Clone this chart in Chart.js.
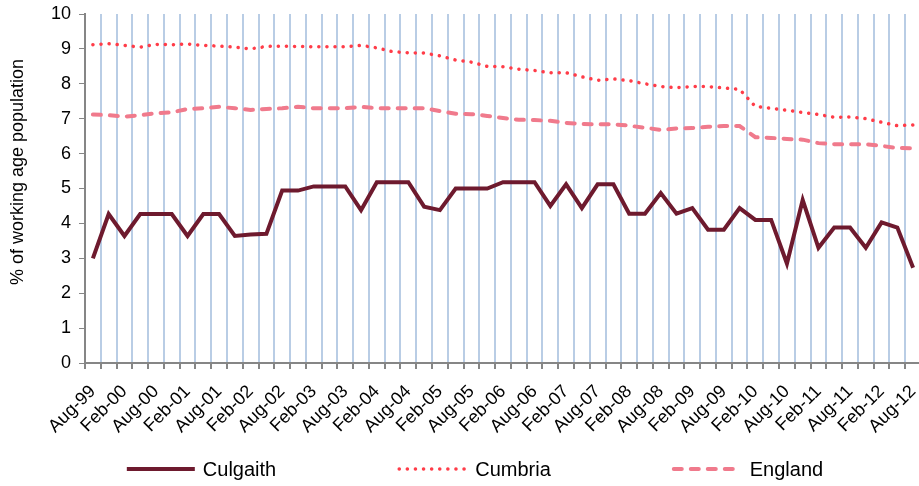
<!DOCTYPE html>
<html>
<head>
<meta charset="utf-8">
<script src="https://cdn.jsdelivr.net/npm/chart.js@4"></script>
<style>
  html, body { margin: 0; padding: 0; background: #fff; overflow: hidden; }
  #wrap { position: relative; width: 921px; height: 486px; }
</style>
</head>
<body>
<div id="wrap"><canvas id="chart"></canvas></div>
<script>
const quarters = [
  'Aug-99', 'Nov-99',
  'Feb-00', 'May-00', 'Aug-00', 'Nov-00',
  'Feb-01', 'May-01', 'Aug-01', 'Nov-01',
  'Feb-02', 'May-02', 'Aug-02', 'Nov-02',
  'Feb-03', 'May-03', 'Aug-03', 'Nov-03',
  'Feb-04', 'May-04', 'Aug-04', 'Nov-04',
  'Feb-05', 'May-05', 'Aug-05', 'Nov-05',
  'Feb-06', 'May-06', 'Aug-06', 'Nov-06',
  'Feb-07', 'May-07', 'Aug-07', 'Nov-07',
  'Feb-08', 'May-08', 'Aug-08', 'Nov-08',
  'Feb-09', 'May-09', 'Aug-09', 'Nov-09',
  'Feb-10', 'May-10', 'Aug-10', 'Nov-10',
  'Feb-11', 'May-11', 'Aug-11', 'Nov-11',
  'Feb-12', 'May-12', 'Aug-12'
];

const culgaith = [
  3.0, 4.27, 3.64, 4.27, 4.27, 4.27, 3.64, 4.27, 4.27, 3.64,
  3.68, 3.7, 4.94, 4.94, 5.06, 5.06, 5.06, 4.38, 5.18, 5.18,
  5.18, 4.48, 4.38, 5.0, 5.0, 5.0, 5.18, 5.18, 5.18, 4.5,
  5.12, 4.44, 5.12, 5.12, 4.28, 4.28, 4.87, 4.28, 4.44, 3.82,
  3.82, 4.44, 4.1, 4.1, 2.85, 4.67, 3.3, 3.88, 3.88, 3.3,
  4.03, 3.88, 2.73
];

const cumbria = [
  9.12, 9.15, 9.1, 9.05, 9.13, 9.12, 9.14, 9.1, 9.08, 9.05,
  9.0, 9.07, 9.08, 9.07, 9.06, 9.06, 9.06, 9.1, 9.03, 8.92,
  8.89, 8.88, 8.8, 8.68, 8.62, 8.5, 8.49, 8.42, 8.38, 8.32,
  8.32, 8.2, 8.1, 8.14, 8.09, 8.0, 7.92, 7.89, 7.92, 7.92,
  7.88, 7.84, 7.35, 7.3, 7.24, 7.18, 7.12, 7.04, 7.05, 7.0,
  6.9, 6.8, 6.82
];

const england = [
  7.12, 7.1, 7.06, 7.1, 7.16, 7.18, 7.28, 7.3, 7.34, 7.3,
  7.25, 7.28, 7.3, 7.34, 7.3, 7.3, 7.3, 7.34, 7.3, 7.3,
  7.3, 7.3, 7.22, 7.14, 7.13, 7.08, 7.02, 6.97, 6.96, 6.94,
  6.88, 6.85, 6.84, 6.84, 6.8, 6.74, 6.68, 6.72, 6.73, 6.77,
  6.79, 6.79, 6.47, 6.45, 6.42, 6.4, 6.3, 6.27, 6.27, 6.27,
  6.22, 6.16, 6.15
];

const yTitle = '% of working age population';

const FONT = "'Liberation Sans', Arial, sans-serif";

// axis title + legend, placed where the original has them
const extras = {
  id: 'extras',
  afterDraw(chart) {
    const ctx = chart.ctx;
    ctx.save();

    // y title (sits a bit above the plot centre in the original)
    ctx.save();
    ctx.translate(18, 172);
    ctx.rotate(-Math.PI / 2);
    ctx.font = '18px ' + FONT;
    ctx.fillStyle = '#000';
    ctx.textAlign = 'center';
    ctx.textBaseline = 'middle';
    ctx.fillText(yTitle, 0, 0);
    ctx.restore();

    const sets = chart.data.datasets;
    const sample = 70, textGap = 8, itemGap = 121, y = 469;
    ctx.font = '20px ' + FONT;
    const widths = sets.map(d => sample + textGap + ctx.measureText(d.label).width);
    const total = widths.reduce((a, b) => a + b, 0) + itemGap * (sets.length - 1);
    let x = 474 - total / 2;
    sets.forEach((d, i) => {
      ctx.beginPath();
      ctx.strokeStyle = d.borderColor;
      ctx.lineWidth = d.borderWidth;
      ctx.lineCap = d.borderCapStyle || 'butt';
      ctx.setLineDash(d.borderDash || []);
      ctx.moveTo(x + 2, y);
      ctx.lineTo(x + sample, y);
      ctx.stroke();
      ctx.setLineDash([]);
      ctx.fillStyle = '#000';
      ctx.textBaseline = 'middle';
      ctx.textAlign = 'left';
      ctx.fillText(d.label, x + sample + textGap, y + 1);
      x += widths[i] + itemGap;
    });
    ctx.restore();
  }
};

new Chart(document.getElementById('chart'), {
  type: 'line',
  data: {
    labels: quarters,
    datasets: [
      {
        label: 'Culgaith',
        data: culgaith,
        borderColor: '#6e1a2e',
        borderWidth: 4,
        borderCapStyle: 'butt',
        borderJoinStyle: 'miter',
        pointRadius: 0,
        tension: 0
      },
      {
        label: 'Cumbria',
        data: cumbria,
        borderColor: '#ff3c48',
        borderWidth: 3.5,
        borderDash: [0.1, 8],
        borderCapStyle: 'round',
        pointRadius: 0,
        tension: 0
      },
      {
        label: 'England',
        data: england,
        borderColor: '#f07a8c',
        borderWidth: 4,
        borderDash: [8, 9],
        borderCapStyle: 'round',
        pointRadius: 0,
        tension: 0
      }
    ]
  },
  options: {
    responsive: true,
    maintainAspectRatio: false,
    animation: false,
    events: [],
    layout: { padding: { top: 14, right: 0, bottom: 0, left: 0 } },
    plugins: {
      legend: { display: false },
      tooltip: { enabled: false }
    },
    scales: {
      x: {
        offset: true,
        afterFit(scale) {
          scale.height = 123;
          scale.paddingLeft = 0;
          scale.paddingRight = 0;
        },
        grid: {
          offset: true,
          color: '#b9cde5',
          lineWidth: 2,
          tickColor: '#868686',
          tickLength: 6,
          drawOnChartArea: true
        },
        border: { color: '#868686', width: 2 },
        ticks: {
          autoSkip: false,
          minRotation: 45,
          maxRotation: 45,
          padding: 12,
          color: '#000',
          font: { family: FONT, size: 18 },
          callback(value, index) {
            return index % 2 === 0 ? quarters[index] : '';
          }
        }
      },
      y: {
        min: 0,
        max: 10,
        afterFit(scale) {
          scale.width = 85;
          scale.paddingTop = 0;
          scale.paddingBottom = 0;
        },
        grid: {
          drawOnChartArea: false,
          tickColor: '#868686',
          tickLength: 6
        },
        border: { color: '#868686', width: 2 },
        ticks: {
          stepSize: 1,
          padding: 8,
          color: '#000',
          font: { family: FONT, size: 18 }
        }
      }
    }
  },
  plugins: [extras]
});
</script>
</body>
</html>
